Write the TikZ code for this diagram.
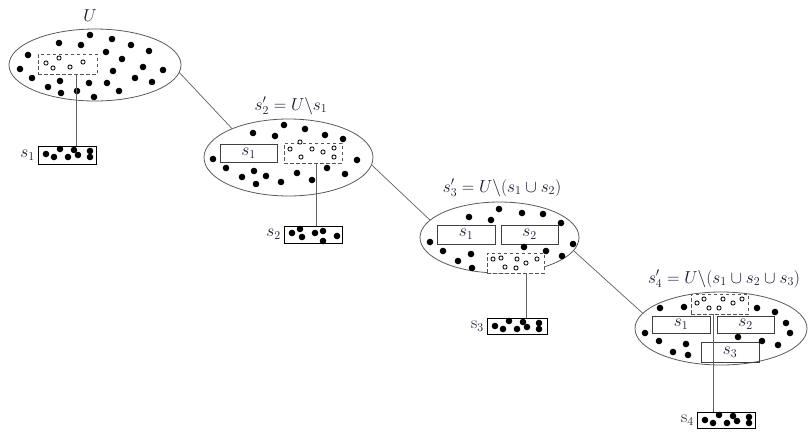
\documentclass[tikz,border=0pt]{standalone}
\usetikzlibrary{shapes.geometric}
\definecolor{ellcol}{HTML}{5A5A5A}
\definecolor{rectcol}{HTML}{404040}
\definecolor{dashcol}{HTML}{555555}
\definecolor{conncol}{HTML}{606060}
\definecolor{labelcol}{rgb}{0.08,0.08,0.18}
\tikzset{
  ell/.style={ellipse, draw=ellcol, line width=0.8pt, inner sep=0pt, outer sep=0pt},
  setrect/.style={rectangle, draw=rectcol, line width=0.9pt, inner sep=0pt, outer sep=0pt,
                  font=\fontsize{17.28}{20}\selectfont, text=labelcol},
  dbox/.style={rectangle, draw=dashcol, dash pattern=on 3.5pt off 2.5pt, line width=0.8pt,
               fill=white, inner sep=0pt, outer sep=0pt},
  bbox/.style={rectangle, draw=black, line width=0.9pt, inner sep=0pt, outer sep=0pt},
  lbl/.style={font=\fontsize{17.28}{20}\selectfont, text=labelcol, inner sep=0pt},
  conn/.style={draw=conncol, line width=0.7pt},
  vconn/.style={draw=conncol, line width=0.8pt},
}
\newcommand{\soliddots}[1]{\foreach \px/\py in {#1} {\fill[black] (\px,\py) circle (3.3pt);}}
\newcommand{\hollowdots}[1]{\foreach \px/\py in {#1} {\draw[black, line width=0.8pt, fill=white] (\px,\py) circle (2.1pt);}}
\newcommand{\boxdots}[2]{\begin{scope}[shift={(#1,#2)}]\foreach \px/\py in {8/8,16/11,22/3,30/11,36/4,40/9,52/5,52/11} {\fill[black] (\px,\py) circle (3.3pt);}\end{scope}}
\begin{document}
\begin{tikzpicture}[x=1pt,y=-1pt]
\useasboundingbox (0,0) rectangle (810,432);

% ellipses
\node[ell, minimum width=172pt, minimum height=72pt] (e1) at (95,65) {};
\node[ell, minimum width=169pt, minimum height=77pt] (e2) at (288.5,157.5) {};
\node[ell, minimum width=159pt, minimum height=71pt] (e3) at (499.5,237.5) {};
\node[ell, minimum width=172pt, minimum height=73pt] (e4) at (721,328.5) {};

% titles
\node[lbl, anchor=base] (t1) at (90,21) {$U$};
\node[lbl, anchor=base] (t2) at (291,110) {$s'_2=U\backslash s_1$};
\node[lbl, anchor=base] (t3) at (502,192) {$s'_3=U\backslash(s_1\cup s_2)$};
\node[lbl, anchor=base] (t4) at (724,283) {$s'_4=U\backslash(s_1\cup s_2\cup s_3)$};

% ---------- ellipse 1 ----------
\node[dbox, minimum width=59pt, minimum height=20pt] (d1) at (67.5,64) {};
\soliddots{90/35,59/43,81/45,112/39,131/45,149/51,28/55,106/52,122/59,20/69,32/78,60/81,48/87,61/93,77/91,89/83,94/97,107/83,113/71,119/91,135/78,143/67,152/82,163/70}
\hollowdots{46/63,59/58,53/68,70/67,83/62}
\node[bbox, minimum width=58pt, minimum height=18pt] (b1) at (67,155) {};
\boxdots{38}{146}
\node[lbl, anchor=east] (l1) at ([xshift=-3pt]b1.west) {$s_1$};
\coordinate (x1) at (76,0);
\draw[vconn] (d1.south -| x1) -- (b1.north -| x1);

% ---------- ellipse 2 ----------
\node[setrect, minimum width=57pt, minimum height=18pt] (r21) at (248.5,153) {$s_1$};
\node[dbox, minimum width=58pt, minimum height=20pt] (d2) at (313,153) {};
\soliddots{253/133,284/125,275/136,305/129,325/135,343/139,213/159,226/168,242/177,254/171,256/184,266/176,281/182,297/173,312/180,327/168,345/174,357/160}
\hollowdots{290/149,301/157,312/149,323/152,334/148,334/157,300/142}
\node[bbox, minimum width=58pt, minimum height=17pt] (b2) at (313,234.5) {};
\soliddots{292/233,300/229,302/237,315/233,323/231,323/241,337/236}
\node[lbl, anchor=east] (l2) at ([xshift=-3pt]b2.west) {$s_2$};
\coordinate (x2) at (316,0);
\draw[vconn] (d2.south -| x2) -- (b2.north -| x2);

% ---------- ellipse 3 ----------
\node[setrect, minimum width=58pt, minimum height=19pt] (r31) at (466,234.5) {$s_1$};
\node[setrect, minimum width=57pt, minimum height=19pt] (r32) at (529.5,234.5) {$s_2$};
\node[dbox, minimum width=57pt, minimum height=20pt] (d3) at (515.5,263) {};
\soliddots{469/217,491/220,499/209,522/213,543/214,561/223,430/242,443/251,458/261,471/254,472/268,524/247,546/251,562/256,573/244}
\hollowdots{493/259,501/258,505/267,517/259,516/268,526/263,537/259}
\node[bbox, minimum width=60pt, minimum height=16pt] (b3) at (517,326) {};
\boxdots{487}{318}
\node[lbl, anchor=east] (l3) at ([xshift=-3pt]b3.west) {$\mathrm{s}_3$};
\coordinate (x3) at (526,0);
\draw[vconn] (d3.south -| x3) -- (b3.north -| x3);

% ---------- ellipse 4 ----------
\node[setrect, minimum width=58pt, minimum height=17pt] (r41) at (681,324.5) {$s_1$};
\node[setrect, minimum width=57pt, minimum height=17pt] (r42) at (745.5,324.5) {$s_2$};
\node[setrect, minimum width=58pt, minimum height=20pt] (r43) at (730,352) {$s_3$};
\node[dbox, minimum width=57pt, minimum height=20pt] (d4) at (719.5,304) {};
\soliddots{660/308,684/307,757/308,775/312,786/323,790/333,645/333,659/341,686/344,673/352,688/355,738/337,762/341,778/345}
\hollowdots{697/303,704/299,709/308,719/308,723/299,733/303,742/299}
\node[bbox, minimum width=58pt, minimum height=16pt] (b4) at (726,420) {};
\boxdots{697}{412}
\node[lbl, anchor=east] (l4) at ([xshift=-3pt]b4.west) {$\mathrm{s}_4$};
\coordinate (x4) at (713,0);
\draw[vconn] (d4.south -| x4) -- (b4.north -| x4);

% connectors between ellipses
\draw[conn] (e1.-5) -- (e2.153);
\draw[conn] (e2.-5) -- (e3.166);
\draw[conn] (e3.-10) -- (e4.169);
\end{tikzpicture}
\end{document}
